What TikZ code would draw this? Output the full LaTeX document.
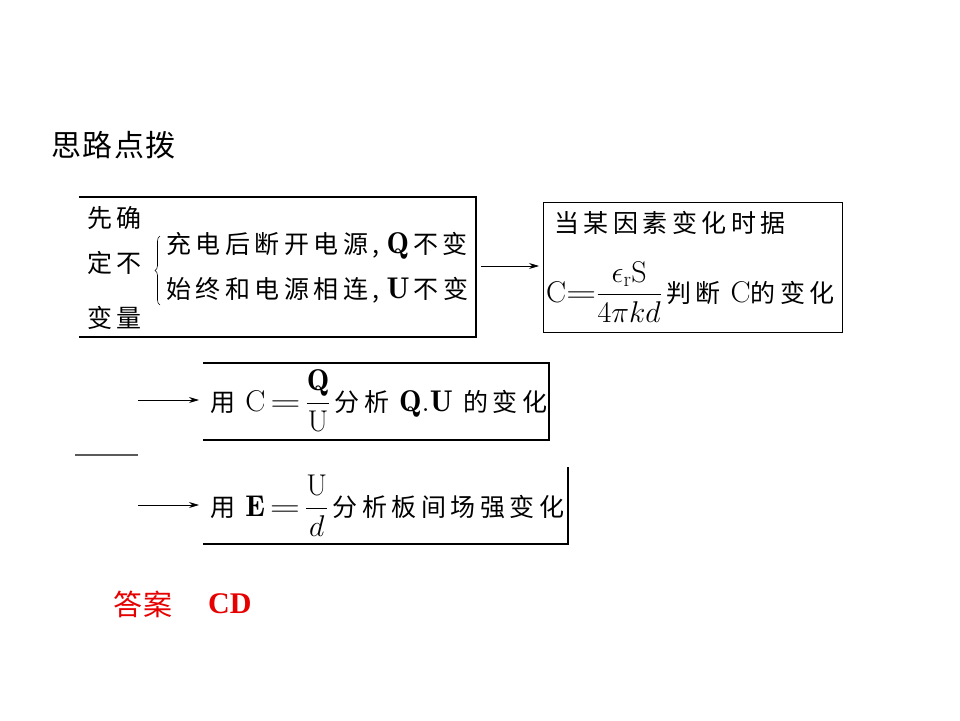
\RequirePackage{fix-cm}
\documentclass[tikz,border=0pt]{standalone}
\usepackage{amsmath}
\usepackage{graphicx}
\usepackage{fontspec}
\newfontfamily\cjk{Noto Sans CJK SC}
\newfontfamily\cjkt[LetterSpace=5]{Noto Sans CJK SC}
\newfontfamily\cjks[LetterSpace=18]{Noto Sans CJK SC}
\newfontfamily\tnr{Liberation Serif}
\newcommand\mth[1]{{\fontsize{30}{36}\selectfont$#1$}}
\newcommand\weq{\mathord{\scalebox{1.4}[1]{$=$}}}
\usetikzlibrary{decorations.pathreplacing,arrows.meta}
\definecolor{ansred}{RGB}{230,0,0}
\definecolor{dashgray}{RGB}{90,90,90}
\begin{document}
\begin{tikzpicture}[x=1pt,y=-1pt,
  box/.style={line width=1.4pt},
  txt/.style={anchor=west,inner sep=0pt,font=\cjks\fontsize{25}{30}\selectfont},
  conn/.style={-{Stealth[length=10pt,width=6pt]},line width=0.8pt}]
\useasboundingbox (0,0) rectangle (960,720);
% title
\node[anchor=west,inner sep=0pt,font=\cjkt\fontsize{30}{34}\selectfont] (title) at (51,145) {思路点拨};
% box 1
\coordinate (b1tl) at (79,197);
\coordinate (b1tr) at (476,197);
\coordinate (b1br) at (476,337);
\coordinate (b1bl) at (79,337);
\draw[box] (b1tl) -- (b1tr) -- (b1br) -- (b1bl);
\node[txt] (k1) at (87,218) {先确};
\node[txt] (k2) at (87,263) {定不};
\node[txt] (k3) at (87,318) {变量};
\coordinate (brb) at (160,305);
\coordinate (brt) at (160,236);
\draw[line width=0.6pt,decorate,decoration={brace,amplitude=5pt}] (brb) -- (brt);
\node[txt] (q1) at (166,246) {充电后断开电源,\;\mth{\mathbf{Q}}\,不变};
\node[txt] (q2) at (166,290) {始终和电源相连,\;\mth{\mathbf{U}}\,不变};
% box 2
\node[draw,line width=1.4pt,minimum width=299pt,minimum height=130pt,inner sep=0pt,anchor=north west] (box2) at (543,202) {};
\node[txt] (c1) at (554,223) {当某因素变化时据};
\node[txt] (c2) at (546,292) {\mth{\mathrm{C}\weq\dfrac{\epsilon_{\mathrm r}\mathrm{S}}{4\pi kd}}\,判断 \mth{\mathrm{C}}的变化};
\coordinate (a1s) at (481,266);
\draw[conn,shorten >=4pt] (a1s) -- (box2.west |- a1s);
% box 3
\coordinate (b3tl) at (203,363);
\coordinate (b3tr) at (549,363);
\coordinate (b3br) at (549,440);
\coordinate (b3bl) at (203,440);
\draw[box] (b3tl) -- (b3tr) -- (b3br) -- (b3bl);
\node[txt] (u1) at (210,401) {用 \mth{\mathrm{C}\,\weq\,\dfrac{\mathbf{Q}}{\mathrm{U}}}\,分析 \mth{\mathbf{Q}.\mathbf{U}} 的变化};
% box 4
\coordinate (b4tr) at (568,467);
\coordinate (b4br) at (568,544);
\coordinate (b4bl) at (203,544);
\draw[box] (b4tr) -- (b4br) -- (b4bl);
\node[txt] (e1) at (210,506) {用 \mth{\mathbf{E}\,\weq\,\dfrac{\mathrm{U}}{d}}\,分析板间场强变化};
% dash and arrows
\coordinate (d1) at (75,455);
\coordinate (d2) at (138,455);
\draw[dashgray,line width=1.2pt] (d1) -- (d2);
\coordinate (a2s) at (138,400);
\coordinate (a2e) at (199,400);
\draw[conn] (a2s) -- (a2e);
\coordinate (a3s) at (138,505);
\coordinate (a3e) at (199,505);
\draw[conn] (a3s) -- (a3e);
% answer
\node[anchor=west,inner sep=0pt,text=ansred,font=\cjkt\fontsize{29}{32}\selectfont] (ans) at (113,604) {答案};
\node[anchor=west,inner sep=0pt,text=ansred,font=\tnr\bfseries\fontsize{30}{32}\selectfont] (cd) at (208,604) {CD};
\end{tikzpicture}
\end{document}
